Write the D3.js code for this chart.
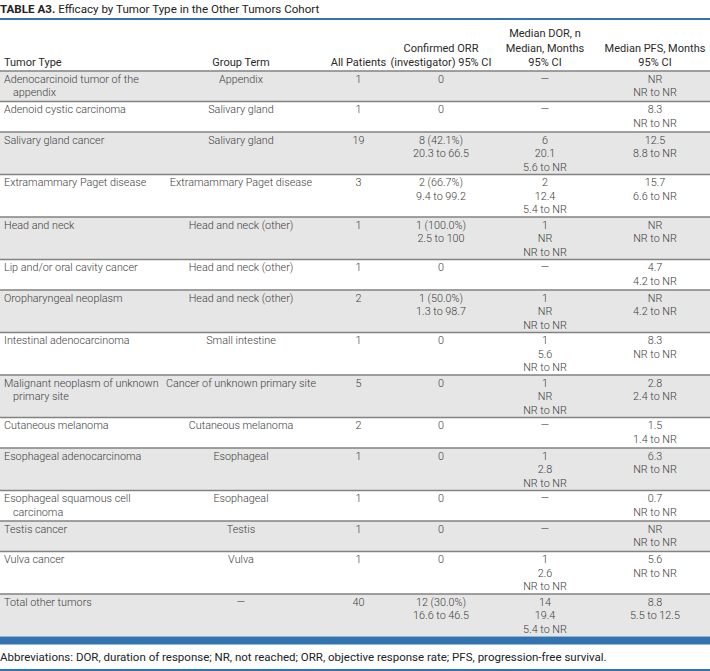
<!DOCTYPE html>
<html><head><meta charset="utf-8">
<script src="https://cdn.jsdelivr.net/npm/d3@7"></script>
<style>
html,body{margin:0;padding:0;background:#fff;}
svg{display:block;}
</style></head>
<body>
<svg id="c" width="710" height="671"></svg>
<script>
const titleBold = "TABLE A3.";
const titleText = "Efficacy by Tumor Type in the Other Tumors Cohort";
const headers = [
  ["Tumor Type"],
  ["Group Term"],
  ["All Patients"],
  ["Confirmed ORR", "(investigator) 95% CI"],
  ["Median DOR, n", "Median, Months", "95% CI"],
  ["Median PFS, Months", "95% CI"]
];
const tumorTypes = [
  "Adenocarcinoid tumor of the appendix",
  "Adenoid cystic carcinoma",
  "Salivary gland cancer",
  "Extramammary Paget disease",
  "Head and neck",
  "Lip and/or oral cavity cancer",
  "Oropharyngeal neoplasm",
  "Intestinal adenocarcinoma",
  "Malignant neoplasm of unknown primary site",
  "Cutaneous melanoma",
  "Esophageal adenocarcinoma",
  "Esophageal squamous cell carcinoma",
  "Testis cancer",
  "Vulva cancer",
  "Total other tumors"
];
const groupTerms = [
  "Appendix", "Salivary gland", "Salivary gland", "Extramammary Paget disease",
  "Head and neck (other)", "Head and neck (other)", "Head and neck (other)",
  "Small intestine", "Cancer of unknown primary site", "Cutaneous melanoma",
  "Esophageal", "Esophageal", "Testis", "Vulva", "—"
];
const allPatients = [1, 1, 19, 3, 1, 1, 2, 1, 5, 2, 1, 1, 1, 1, 40];
const orr = [
  ["0"], ["0"], ["8 (42.1%)", "20.3 to 66.5"], ["2 (66.7%)", "9.4 to 99.2"],
  ["1 (100.0%)", "2.5 to 100"], ["0"], ["1 (50.0%)", "1.3 to 98.7"], ["0"], ["0"],
  ["0"], ["0"], ["0"], ["0"], ["0"], ["12 (30.0%)", "16.6 to 46.5"]
];
const dor = [
  ["—"], ["—"], ["6", "20.1", "5.6 to NR"], ["2", "12.4", "5.4 to NR"],
  ["1", "NR", "NR to NR"], ["—"], ["1", "NR", "NR to NR"], ["1", "5.6", "NR to NR"],
  ["1", "NR", "NR to NR"], ["—"], ["1", "2.8", "NR to NR"], ["—"], ["—"],
  ["1", "2.6", "NR to NR"], ["14", "19.4", "5.4 to NR"]
];
const pfs = [
  ["NR", "NR to NR"], ["8.3", "NR to NR"], ["12.5", "8.8 to NR"], ["15.7", "6.6 to NR"],
  ["NR", "NR to NR"], ["4.7", "4.2 to NR"], ["NR", "4.2 to NR"], ["8.3", "NR to NR"],
  ["2.8", "2.4 to NR"], ["1.5", "1.4 to NR"], ["6.3", "NR to NR"], ["0.7", "NR to NR"],
  ["NR", "NR to NR"], ["5.6", "NR to NR"], ["8.8", "5.5 to 12.5"]
];
const footnote = "Abbreviations: DOR, duration of response; NR, not reached; ORR, objective response rate; PFS, progression-free survival.";

const W = 710;
const BLUE = "#3274b0";
const GRAY_FILL = "#e6e6e6";
const LINE = "#828282";
const TXT = "#404040";
const FONT = "Roboto, 'Liberation Sans', sans-serif";
const FS = 10.8;

const svg = d3.select("#c");
svg.append("rect").attr("width", W).attr("height", 671).attr("fill", "#fff");

const colEdges = [0, 157, 325, 392, 490, 600, 710];
const colCenter = i => (colEdges[i] + colEdges[i + 1]) / 2;

// title
const t = svg.append("text").attr("x", 0).attr("y", 13)
  .attr("font-family", FONT).attr("font-size", 11.6).attr("fill", "#222");
t.append("tspan").attr("font-weight", 700).text(titleBold);
t.append("tspan").attr("font-weight", 400).text("  " + titleText);
svg.append("rect").attr("x", 0).attr("y", 18).attr("width", W).attr("height", 2).attr("fill", BLUE);

// header
const headerBottom = 71;
const hLine = d3.scaleLinear().domain([0, 2]).range([37, 66]);
headers.forEach((lines, i) => {
  const off = 3 - lines.length;
  lines.forEach((s, j) => {
    svg.append("text")
      .attr("x", i === 0 ? 4 : colCenter(i))
      .attr("y", hLine(j + off))
      .attr("text-anchor", i === 0 ? "start" : "middle")
      .attr("font-family", FONT).attr("font-size", 11).attr("font-weight", 400)
      .attr("fill", "#2a2a2a").text(s);
  });
});

const measure = svg.append("text").attr("font-family", FONT).attr("font-size", FS).attr("font-weight", 300);
function wrap(s, maxW) {
  const words = s.split(" ");
  const out = []; let cur = "";
  words.forEach(w => {
    const test = cur ? cur + " " + w : w;
    measure.text(test);
    if (measure.node().getComputedTextLength() > maxW && cur) { out.push(cur); cur = w; }
    else cur = test;
  });
  if (cur) out.push(cur);
  return out;
}
const ttLines = tumorTypes.map(s => wrap(s, 158));
measure.remove();

const nLines = tumorTypes.map((_, i) => Math.max(ttLines[i].length, orr[i].length, dor[i].length, pfs[i].length, 1));
const rowH = n => 30.5 + (n - 2) * 12;
const rowTops = [];
let y = headerBottom;
nLines.forEach(n => { rowTops.push(y); y += rowH(n); });
const tableBottom = y;

const lineY = d3.scaleLinear().domain([0, 1]).range([11.5, 25]);

const rows = svg.append("g");
tumorTypes.forEach((_, i) => {
  const g = rows.append("g").attr("transform", `translate(0,${rowTops[i]})`);
  g.append("rect").attr("x", 0).attr("y", 0).attr("width", W).attr("height", rowH(nLines[i]))
    .attr("fill", i % 2 === 0 ? GRAY_FILL : "#fff");
  const cell = (lines, x, anchor, indent) => {
    lines.forEach((s, j) => {
      g.append("text").attr("x", x + (indent && j > 0 ? 9 : 0)).attr("y", lineY(j))
        .attr("text-anchor", anchor)
        .attr("font-family", FONT).attr("font-size", FS).attr("font-weight", 300)
        .attr("fill", TXT).text(s);
    });
  };
  cell(ttLines[i], 4, "start", true);
  cell([groupTerms[i]], colCenter(1), "middle");
  cell([String(allPatients[i])], colCenter(2), "middle");
  cell(orr[i], colCenter(3), "middle");
  cell(dor[i], colCenter(4), "middle");
  cell(pfs[i], colCenter(5), "middle");
});

[headerBottom, ...rowTops.slice(1)].forEach(yy => {
  svg.append("line").attr("x1", 0).attr("x2", W).attr("y1", yy).attr("y2", yy)
    .attr("stroke", LINE).attr("stroke-width", 1.5);
});

svg.append("rect").attr("x", 0).attr("y", tableBottom).attr("width", W).attr("height", 8).attr("fill", BLUE);

svg.append("text").attr("x", 0).attr("y", 661)
  .attr("font-family", FONT).attr("font-size", 11.5).attr("font-weight", 400)
  .attr("fill", "#222").text(footnote);
svg.append("rect").attr("x", 0).attr("y", 669).attr("width", W).attr("height", 2).attr("fill", BLUE);
</script>
</body></html>
